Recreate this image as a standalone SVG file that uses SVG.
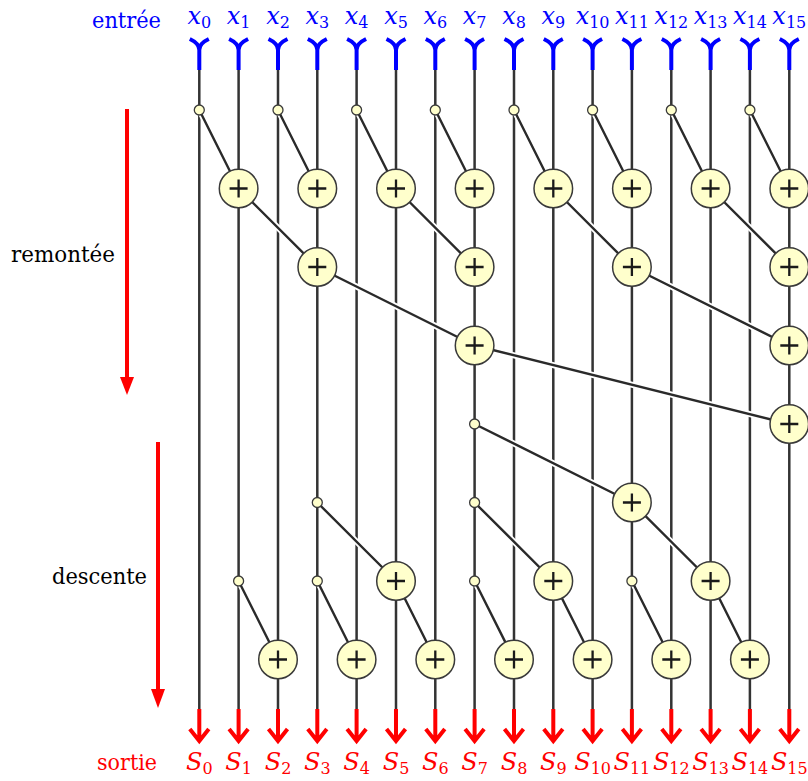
<svg xmlns="http://www.w3.org/2000/svg" xmlns:xlink="http://www.w3.org/1999/xlink" width="808" height="781" viewBox="0 0 808 781">
<style>
.wire{stroke:#333;stroke-width:2.5;fill:none}
.halo{stroke:#fff;stroke-width:6;fill:none}
.link{stroke:#2a2a2a;stroke-width:2.4;fill:none}
.inp{stroke:#0000ff;stroke-width:4;fill:none}
.out{stroke:#ff0000;stroke-width:4;fill:none}
.lbl{font-family:"DejaVu Serif","Liberation Serif",serif;font-size:23px;fill:#000}
.xin{font-family:"DejaVu Serif","Liberation Serif",serif;font-style:italic;font-size:24px;fill:#0000ff}
.sout{font-family:"DejaVu Serif","Liberation Serif",serif;font-style:italic;font-size:24px;fill:#ff0000}
.sub{font-style:normal;font-size:16px}
</style>
<defs>
<g id="plus"><circle r="19.3" fill="#ffffcc" stroke="#3a3a3a" stroke-width="1.5"/><path d="M-9 0H9M0-9V9" stroke="#1a1a1a" stroke-width="2.3"/></g>
<circle id="dot" r="5" fill="#ffffcc" stroke="#3a3a3a" stroke-width="1.3"/>
<path id="iny" class="inp" d="M-9.5,-31 C-3,-28 0,-25 0,-20 V0 M9.5,-31 C3,-28 0,-25 0,-20"/>
<path id="outa" class="out" d="M0,0 V31 M-9.5,20 L0,32 L9.5,20"/>
</defs>

<g id="labels">
<text class="lbl" x="92" y="28" style="fill:#0000ff" textLength="69" lengthAdjust="spacingAndGlyphs">entrée</text>
<text class="lbl" x="11" y="262" textLength="104" lengthAdjust="spacingAndGlyphs">remontée</text>
<text class="lbl" x="52" y="584" textLength="95" lengthAdjust="spacingAndGlyphs">descente</text>
<text class="lbl" x="97" y="770" style="fill:#ff0000" textLength="60" lengthAdjust="spacingAndGlyphs">sortie</text>
</g>

<g id="phase-arrows">
<path d="M127,109V380" stroke="#ff0000" stroke-width="4"/>
<polygon points="120,377 134,377 127,395" fill="#ff0000"/>
<path d="M158,442V692" stroke="#ff0000" stroke-width="4"/>
<polygon points="151,689 165,689 158,708" fill="#ff0000"/>
</g>

<g id="inputs">
<text class="xin" text-anchor="middle" x="199.3" y="24">x<tspan class="sub" dy="4">0</tspan></text>
<text class="xin" text-anchor="middle" x="238.6" y="24">x<tspan class="sub" dy="4">1</tspan></text>
<text class="xin" text-anchor="middle" x="278" y="24">x<tspan class="sub" dy="4">2</tspan></text>
<text class="xin" text-anchor="middle" x="317.3" y="24">x<tspan class="sub" dy="4">3</tspan></text>
<text class="xin" text-anchor="middle" x="356.6" y="24">x<tspan class="sub" dy="4">4</tspan></text>
<text class="xin" text-anchor="middle" x="396" y="24">x<tspan class="sub" dy="4">5</tspan></text>
<text class="xin" text-anchor="middle" x="435.3" y="24">x<tspan class="sub" dy="4">6</tspan></text>
<text class="xin" text-anchor="middle" x="474.6" y="24">x<tspan class="sub" dy="4">7</tspan></text>
<text class="xin" text-anchor="middle" x="514" y="24">x<tspan class="sub" dy="4">8</tspan></text>
<text class="xin" text-anchor="middle" x="553.3" y="24">x<tspan class="sub" dy="4">9</tspan></text>
<text class="xin" text-anchor="middle" x="592.6" y="24">x<tspan class="sub" dy="4">10</tspan></text>
<text class="xin" text-anchor="middle" x="631.9" y="24">x<tspan class="sub" dy="4">11</tspan></text>
<text class="xin" text-anchor="middle" x="671.3" y="24">x<tspan class="sub" dy="4">12</tspan></text>
<text class="xin" text-anchor="middle" x="710.6" y="24">x<tspan class="sub" dy="4">13</tspan></text>
<text class="xin" text-anchor="middle" x="749.9" y="24">x<tspan class="sub" dy="4">14</tspan></text>
<text class="xin" text-anchor="middle" x="789.3" y="24">x<tspan class="sub" dy="4">15</tspan></text>
<use xlink:href="#iny" x="199.3" y="70"/><use xlink:href="#iny" x="238.6" y="70"/><use xlink:href="#iny" x="278" y="70"/><use xlink:href="#iny" x="317.3" y="70"/>
<use xlink:href="#iny" x="356.6" y="70"/><use xlink:href="#iny" x="396" y="70"/><use xlink:href="#iny" x="435.3" y="70"/><use xlink:href="#iny" x="474.6" y="70"/>
<use xlink:href="#iny" x="514" y="70"/><use xlink:href="#iny" x="553.3" y="70"/><use xlink:href="#iny" x="592.6" y="70"/><use xlink:href="#iny" x="631.9" y="70"/>
<use xlink:href="#iny" x="671.3" y="70"/><use xlink:href="#iny" x="710.6" y="70"/><use xlink:href="#iny" x="749.9" y="70"/><use xlink:href="#iny" x="789.3" y="70"/>
</g>

<g id="wires" class="wire">
<path d="M199.3,70V710M238.6,70V710M278,70V710M317.3,70V710M356.6,70V710M396,70V710M435.3,70V710M474.6,70V710M514,70V710M553.3,70V710M592.6,70V710M631.9,70V710M671.3,70V710M710.6,70V710M749.9,70V710M789.3,70V710"/>
</g>

<g id="connectors">
<path class="halo" d="M199.3,110L238.6,188.5M278,110L317.3,188.5M356.6,110L396,188.5M435.3,110L474.6,188.5M514,110L553.3,188.5M592.6,110L631.9,188.5M671.3,110L710.6,188.5M749.9,110L789.3,188.5
M238.6,188.5L317.3,267M396,188.5L474.6,267M553.3,188.5L631.9,267M710.6,188.5L789.3,267
M317.3,267L474.6,345.5M631.9,267L789.3,345.5
M474.6,345.5L789.3,424
M474.6,424L631.9,502.5
M317.3,502.5L396,581M474.6,502.5L553.3,581M631.9,502.5L710.6,581
M238.6,581L278,659.5M317.3,581L356.6,659.5M396,581L435.3,659.5M474.6,581L514,659.5M553.3,581L592.6,659.5M631.9,581L671.3,659.5M710.6,581L749.9,659.5"/>
<path class="link" d="M199.3,110L238.6,188.5M278,110L317.3,188.5M356.6,110L396,188.5M435.3,110L474.6,188.5M514,110L553.3,188.5M592.6,110L631.9,188.5M671.3,110L710.6,188.5M749.9,110L789.3,188.5
M238.6,188.5L317.3,267M396,188.5L474.6,267M553.3,188.5L631.9,267M710.6,188.5L789.3,267
M317.3,267L474.6,345.5M631.9,267L789.3,345.5
M474.6,345.5L789.3,424
M474.6,424L631.9,502.5
M317.3,502.5L396,581M474.6,502.5L553.3,581M631.9,502.5L710.6,581
M238.6,581L278,659.5M317.3,581L356.6,659.5M396,581L435.3,659.5M474.6,581L514,659.5M553.3,581L592.6,659.5M631.9,581L671.3,659.5M710.6,581L749.9,659.5"/>
</g>

<g id="nodes">
<g id="d0-0"><use xlink:href="#dot" x="199.3" y="110"/></g>
<g id="d0-2"><use xlink:href="#dot" x="278" y="110"/></g>
<g id="d0-4"><use xlink:href="#dot" x="356.6" y="110"/></g>
<g id="d0-6"><use xlink:href="#dot" x="435.3" y="110"/></g>
<g id="d0-8"><use xlink:href="#dot" x="514" y="110"/></g>
<g id="d0-10"><use xlink:href="#dot" x="592.6" y="110"/></g>
<g id="d0-12"><use xlink:href="#dot" x="671.3" y="110"/></g>
<g id="d0-14"><use xlink:href="#dot" x="749.9" y="110"/></g>
<g id="p1-1"><use xlink:href="#plus" x="238.6" y="188.5"/></g>
<g id="p1-3"><use xlink:href="#plus" x="317.3" y="188.5"/></g>
<g id="p1-5"><use xlink:href="#plus" x="396" y="188.5"/></g>
<g id="p1-7"><use xlink:href="#plus" x="474.6" y="188.5"/></g>
<g id="p1-9"><use xlink:href="#plus" x="553.3" y="188.5"/></g>
<g id="p1-11"><use xlink:href="#plus" x="631.9" y="188.5"/></g>
<g id="p1-13"><use xlink:href="#plus" x="710.6" y="188.5"/></g>
<g id="p1-15"><use xlink:href="#plus" x="789.3" y="188.5"/></g>
<g id="p2-3"><use xlink:href="#plus" x="317.3" y="267"/></g>
<g id="p2-7"><use xlink:href="#plus" x="474.6" y="267"/></g>
<g id="p2-11"><use xlink:href="#plus" x="631.9" y="267"/></g>
<g id="p2-15"><use xlink:href="#plus" x="789.3" y="267"/></g>
<g id="p3-7"><use xlink:href="#plus" x="474.6" y="345.5"/></g>
<g id="p3-15"><use xlink:href="#plus" x="789.3" y="345.5"/></g>
<g id="p4-15"><use xlink:href="#plus" x="789.3" y="424"/></g>
<g id="d4-7"><use xlink:href="#dot" x="474.6" y="424"/></g>
<g id="d5-3"><use xlink:href="#dot" x="317.3" y="502.5"/></g>
<g id="d5-7"><use xlink:href="#dot" x="474.6" y="502.5"/></g>
<g id="p5-11"><use xlink:href="#plus" x="631.9" y="502.5"/></g>
<g id="d6-1"><use xlink:href="#dot" x="238.6" y="581"/></g>
<g id="d6-3"><use xlink:href="#dot" x="317.3" y="581"/></g>
<g id="d6-7"><use xlink:href="#dot" x="474.6" y="581"/></g>
<g id="d6-11"><use xlink:href="#dot" x="631.9" y="581"/></g>
<g id="p6-5"><use xlink:href="#plus" x="396" y="581"/></g>
<g id="p6-9"><use xlink:href="#plus" x="553.3" y="581"/></g>
<g id="p6-13"><use xlink:href="#plus" x="710.6" y="581"/></g>
<g id="p7-2"><use xlink:href="#plus" x="278" y="659.5"/></g>
<g id="p7-4"><use xlink:href="#plus" x="356.6" y="659.5"/></g>
<g id="p7-6"><use xlink:href="#plus" x="435.3" y="659.5"/></g>
<g id="p7-8"><use xlink:href="#plus" x="514" y="659.5"/></g>
<g id="p7-10"><use xlink:href="#plus" x="592.6" y="659.5"/></g>
<g id="p7-12"><use xlink:href="#plus" x="671.3" y="659.5"/></g>
<g id="p7-14"><use xlink:href="#plus" x="749.9" y="659.5"/></g>
</g>

<g id="outputs">
<use xlink:href="#outa" x="199.3" y="709"/><use xlink:href="#outa" x="238.6" y="709"/><use xlink:href="#outa" x="278" y="709"/><use xlink:href="#outa" x="317.3" y="709"/>
<use xlink:href="#outa" x="356.6" y="709"/><use xlink:href="#outa" x="396" y="709"/><use xlink:href="#outa" x="435.3" y="709"/><use xlink:href="#outa" x="474.6" y="709"/>
<use xlink:href="#outa" x="514" y="709"/><use xlink:href="#outa" x="553.3" y="709"/><use xlink:href="#outa" x="592.6" y="709"/><use xlink:href="#outa" x="631.9" y="709"/>
<use xlink:href="#outa" x="671.3" y="709"/><use xlink:href="#outa" x="710.6" y="709"/><use xlink:href="#outa" x="749.9" y="709"/><use xlink:href="#outa" x="789.3" y="709"/>
<text class="sout" text-anchor="middle" x="199.3" y="770">S<tspan class="sub" dy="4">0</tspan></text>
<text class="sout" text-anchor="middle" x="238.6" y="770">S<tspan class="sub" dy="4">1</tspan></text>
<text class="sout" text-anchor="middle" x="278" y="770">S<tspan class="sub" dy="4">2</tspan></text>
<text class="sout" text-anchor="middle" x="317.3" y="770">S<tspan class="sub" dy="4">3</tspan></text>
<text class="sout" text-anchor="middle" x="356.6" y="770">S<tspan class="sub" dy="4">4</tspan></text>
<text class="sout" text-anchor="middle" x="396" y="770">S<tspan class="sub" dy="4">5</tspan></text>
<text class="sout" text-anchor="middle" x="435.3" y="770">S<tspan class="sub" dy="4">6</tspan></text>
<text class="sout" text-anchor="middle" x="474.6" y="770">S<tspan class="sub" dy="4">7</tspan></text>
<text class="sout" text-anchor="middle" x="514" y="770">S<tspan class="sub" dy="4">8</tspan></text>
<text class="sout" text-anchor="middle" x="553.3" y="770">S<tspan class="sub" dy="4">9</tspan></text>
<text class="sout" text-anchor="middle" x="592.6" y="770">S<tspan class="sub" dy="4">10</tspan></text>
<text class="sout" text-anchor="middle" x="631.9" y="770">S<tspan class="sub" dy="4">11</tspan></text>
<text class="sout" text-anchor="middle" x="671.3" y="770">S<tspan class="sub" dy="4">12</tspan></text>
<text class="sout" text-anchor="middle" x="710.6" y="770">S<tspan class="sub" dy="4">13</tspan></text>
<text class="sout" text-anchor="middle" x="749.9" y="770">S<tspan class="sub" dy="4">14</tspan></text>
<text class="sout" text-anchor="middle" x="789.3" y="770">S<tspan class="sub" dy="4">15</tspan></text>
</g>
</svg>
